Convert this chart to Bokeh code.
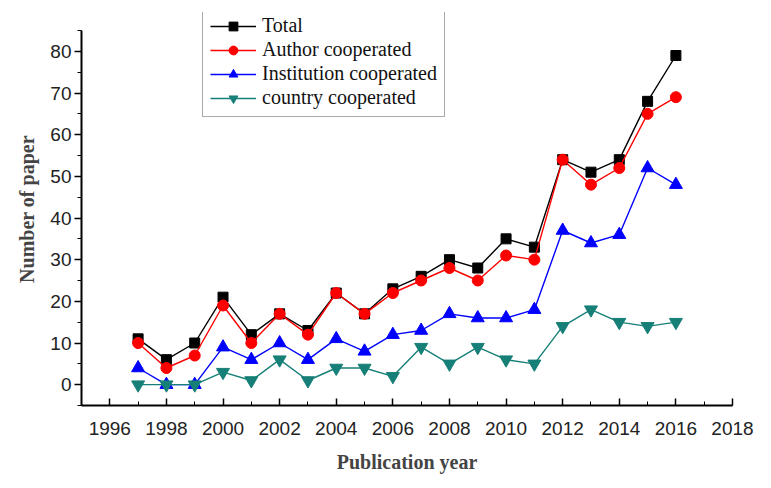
from bokeh.plotting import figure
from bokeh.models import SingleIntervalTicker, Range1d, Legend, LegendItem
from bokeh.embed import file_html
from bokeh.resources import INLINE

years = [1997, 1998, 1999, 2000, 2001, 2002, 2003, 2004, 2005, 2006,
         2007, 2008, 2009, 2010, 2011, 2012, 2013, 2014, 2015, 2016]
total = [11, 6, 10, 21, 12, 17, 13, 22, 17, 23, 26, 30, 28, 35, 33, 54, 51, 54, 68, 79]
author = [10, 4, 7, 19, 10, 17, 12, 22, 17, 22, 25, 28, 25, 31, 30, 54, 48, 52, 65, 69]
institution = [4, 0, 0, 9, 6, 10, 6, 11, 8, 12, 13, 17, 16, 16, 18, 37, 34, 36, 52, 48]
country = [0, 0, 0, 3, 1, 6, 1, 4, 4, 2, 9, 5, 9, 6, 5, 14, 18, 15, 14, 15]

labels = ["Total", "Author cooperated", "Institution cooperated", "country cooperated"]
colors = ["#000000", "#ff0000", "#0000ff", "#167f77"]

# frame extends above the y axis line so the legend (which sits above it) is not clipped
p = figure(frame_width=651, frame_height=393, output_backend="svg", toolbar_location=None,
           x_range=Range1d(1995, 2018), y_range=Range1d(-5, 89.32))
p.min_border_left = 81
p.min_border_right = 31
p.min_border_top = 12
p.min_border_bottom = 78
p.outline_line_color = None
p.background_fill_color = "white"
p.border_fill_color = "white"
p.xgrid.visible = False
p.ygrid.visible = False

series = [total, author, institution, country]
markers = ["square", "circle", "triangle", "inverted_triangle"]
sizes = [10, 11, 13, 13]
items = []
for s, lab, c, m, sz in zip(series, labels, colors, markers, sizes):
    r1 = p.line(years, s, line_color=c, line_width=1.4)
    r2 = p.scatter(years, s, marker=m, size=sz, fill_color=c, line_color=c)
    items.append(LegendItem(label=lab, renderers=[r1, r2]))

legend = Legend(items=items, location=(121, 288))
legend.label_text_font = "Liberation Serif"
legend.label_text_font_size = "20px"
legend.label_text_color = "#111111"
legend.glyph_width = 46
legend.glyph_height = 22
legend.label_height = 22
legend.spacing = 1
legend.padding = 7
legend.margin = 0
legend.label_standoff = 6
legend.border_line_color = "#555555"
legend.border_line_width = 1
legend.background_fill_alpha = 1.0
p.add_layout(legend, "center")

xa = p.xaxis[0]
xa.ticker = SingleIntervalTicker(interval=2, num_minor_ticks=2)
xa.major_tick_in = 7
xa.major_tick_out = 0
xa.minor_tick_in = 4
xa.minor_tick_out = 0
xa.major_label_standoff = 16
xa.axis_label = "Publication year"
xa.axis_label_text_font = "Liberation Serif"
xa.axis_label_text_font_style = "bold"
xa.axis_label_text_font_size = "20px"
xa.axis_label_standoff = 13
xa.major_label_text_font = "Liberation Sans"
xa.major_label_text_font_size = "19px"
xa.major_label_text_color = "#222222"
xa.axis_line_width = 2
xa.major_tick_line_width = 1.5

ya = p.yaxis[0]
ya.bounds = (-5, 85)
ya.ticker = SingleIntervalTicker(interval=10, num_minor_ticks=2)
ya.major_tick_in = 0
ya.major_tick_out = 7
ya.minor_tick_in = 0
ya.minor_tick_out = 4
ya.major_label_standoff = 3
ya.axis_label = "Number of paper"
ya.axis_label_text_font = "Liberation Serif"
ya.axis_label_text_font_style = "bold"
ya.axis_label_text_font_size = "20px"
ya.axis_label_standoff = 9
ya.major_label_text_font = "Liberation Sans"
ya.major_label_text_font_size = "19px"
ya.major_label_text_color = "#222222"
ya.axis_line_width = 2
ya.major_tick_line_width = 1.5

open("out.html", "w").write(file_html(p, INLINE))
